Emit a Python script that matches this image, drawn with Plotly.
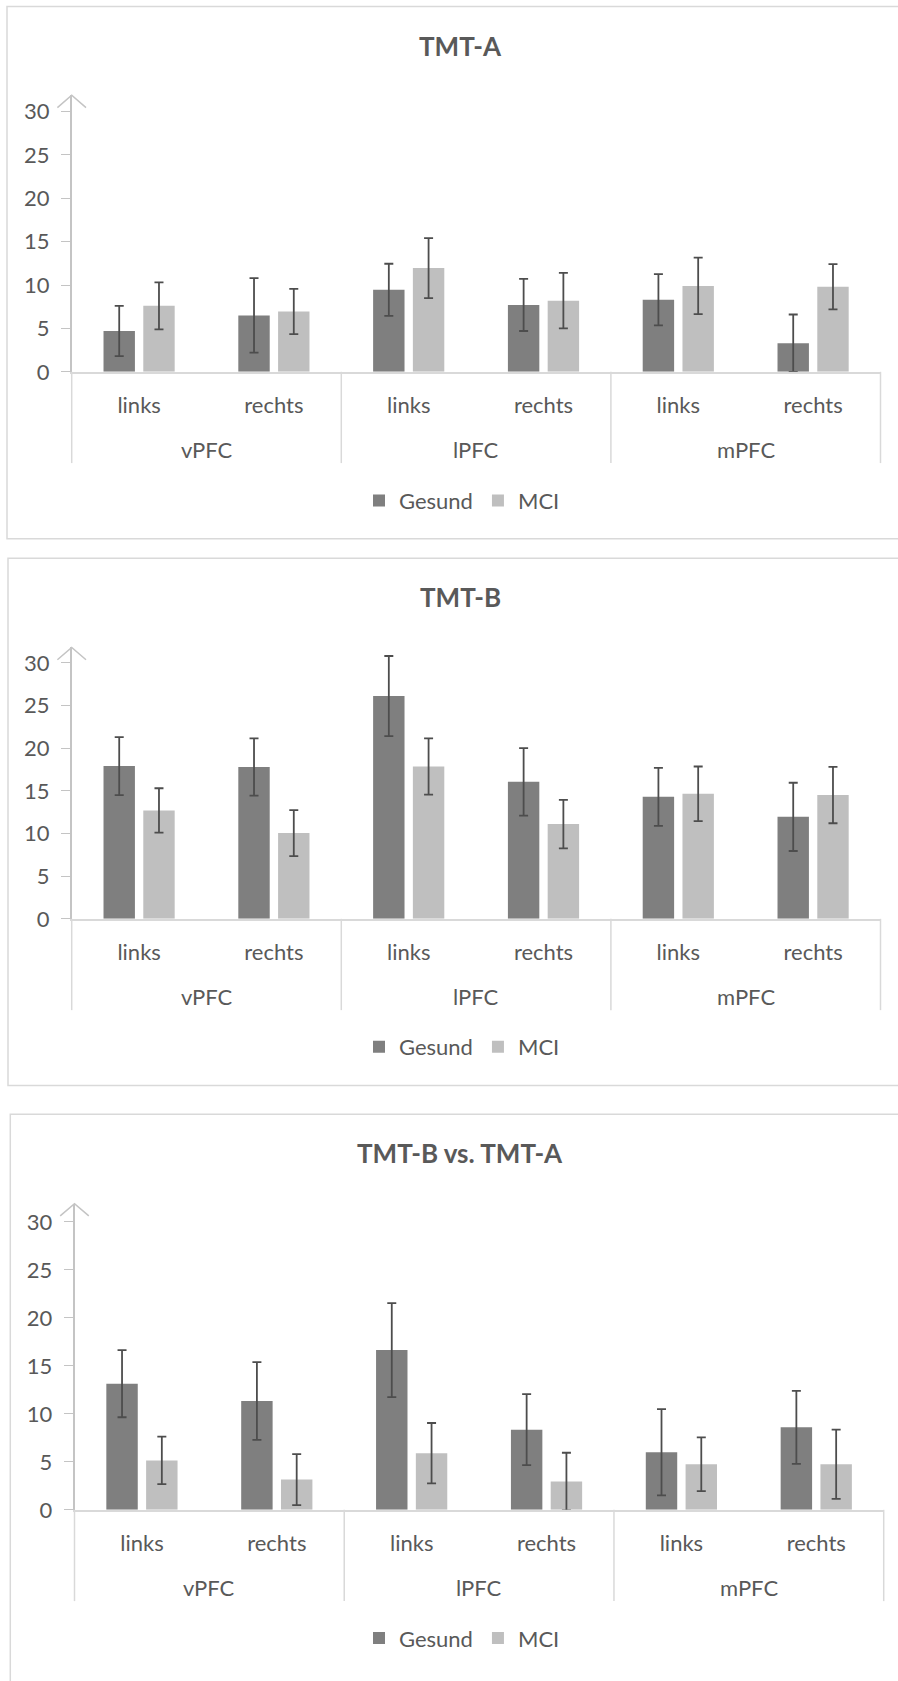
import plotly.graph_objects as go

W, H = 898, 1681

# ---------------- data ----------------
groups = ["vPFC", "lPFC", "mPFC"]
sides = ["links", "rechts"]
series = ["Gesund", "MCI"]
titles = ["TMT-A", "TMT-B", "TMT-B vs. TMT-A"]
y_ticks = [0, 5, 10, 15, 20, 25, 30]

tmt_a_gesund = [4.7, 6.5, 9.45, 7.7, 8.3, 3.3]
tmt_a_gesund_err = [2.9, 4.3, 3.0, 3.0, 2.95, 3.3]
tmt_a_mci = [7.6, 6.95, 11.95, 8.2, 9.9, 9.8]
tmt_a_mci_err = [2.7, 2.6, 3.45, 3.2, 3.25, 2.6]

tmt_b_gesund = [17.9, 17.8, 26.1, 16.05, 14.3, 11.95]
tmt_b_gesund_err = [3.4, 3.35, 4.7, 3.95, 3.4, 4.0]
tmt_b_mci = [12.7, 10.05, 17.85, 11.1, 14.65, 14.5]
tmt_b_mci_err = [2.6, 2.7, 3.3, 2.85, 3.2, 3.3]

diff_gesund = [13.15, 11.35, 16.65, 8.35, 6.0, 8.6]
diff_gesund_err = [3.5, 4.05, 4.9, 3.7, 4.5, 3.8]
diff_mci = [5.15, 3.15, 5.9, 2.95, 4.75, 4.75]
diff_mci_err = [2.47, 2.66, 3.15, 3.0, 2.8, 3.6]

panels_values = [
    (tmt_a_gesund, tmt_a_gesund_err, tmt_a_mci, tmt_a_mci_err),
    (tmt_b_gesund, tmt_b_gesund_err, tmt_b_mci, tmt_b_mci_err),
    (diff_gesund, diff_gesund_err, diff_mci, diff_mci_err),
]

# ---------------- style / layout (pixels) ----------------
FONT = "Lato, Carlito, Calibri, 'Open Sans', sans-serif"
TXT = "#595959"
AXIS_LINE = "#d9d9d9"
YAXIS_LINE = "#c4c4c4"
BORDER = "#d9d9d9"
COLORS = ["#7f7f7f", "#bfbfbf"]
ERR = "#4d4d4d"
FS = 22

layout_px = [
    dict(bx=7, bt=6.5, bb=543, ax0=71.7, ax1=880.5, y0=374.7, y30=112.3, top=96, title=46, legend=504.5),
    dict(bx=8, bt=562.5, bb=1094, ax0=71.7, ax1=880.5, y0=926, y30=668, top=652.5, title=602, legend=1055),
    dict(bx=10.3, bt=1123, bb=1740, ax0=74.5, ax1=883.7, y0=1521.6, y30=1231.5, top=1213, title=1162, legend=1651),
]
TITLE_X = 460
LEGEND_X = 462


def px(x):
    return x / W


def py(y):
    return 1 - y / H


fig = go.Figure()
shapes = []
annotations = []

xs = [g * len(sides) + s for g in range(len(groups)) for s in range(len(sides))]
xlabels = [sides[s] for g in range(len(groups)) for s in range(len(sides))]

for i, (vals, L) in enumerate(zip(panels_values, layout_px)):
    n = "" if i == 0 else str(i + 1)
    xa, ya = "x" + n, "y" + n
    leg = "legend" + n
    g_vals, g_err, m_vals, m_err = vals
    for k, (yv, ev) in enumerate([(g_vals, g_err), (m_vals, m_err)]):
        fig.add_trace(go.Bar(
            x=xs, y=yv, name=series[k], xaxis=xa, yaxis=ya, legend=leg,
            marker=dict(color=COLORS[k], line=dict(width=0)),
            error_y=dict(type="data", array=ev, visible=True, color=ERR,
                         thickness=1.8, width=4.5),
            showlegend=True,
        ))
    ytop = 30 * (L["y0"] - L["top"]) / (L["y0"] - L["y30"])
    fig.layout["xaxis" + n] = dict(
        domain=[px(L["ax0"]), px(L["ax1"])], anchor=ya,
        range=[-0.5, len(xs) - 0.5], tickvals=xs, ticktext=xlabels,
        showline=True, linecolor=AXIS_LINE, linewidth=1.5,
        ticks="", showgrid=False, zeroline=False, fixedrange=True,
        tickfont=dict(family=FONT, size=FS, color=TXT),
        ticklabelstandoff=13,
    )
    fig.layout["yaxis" + n] = dict(
        domain=[py(L["y0"]), py(L["top"])], anchor=xa,
        range=[0, ytop], tickvals=y_ticks,
        showline=True, linecolor=YAXIS_LINE, linewidth=1.5,
        ticks="outside", ticklen=9, tickcolor=YAXIS_LINE, tickwidth=1.3,
        showgrid=False, zeroline=False, fixedrange=True,
        tickfont=dict(family=FONT, size=FS, color=TXT),
        ticklabelstandoff=7,
    )
    # panel border (right edge lies outside the picture)
    shapes.append(dict(type="rect", xref="paper", yref="paper",
                       x0=px(L["bx"]), x1=px(W + 20), y0=py(L["bb"]), y1=py(L["bt"]),
                       line=dict(color=BORDER, width=1.5), layer="below"))
    # group dividers
    for g in range(len(groups) + 1):
        shapes.append(dict(type="line", xref=xa + " domain", yref="paper",
                           x0=g / len(groups), x1=g / len(groups),
                           y0=py(L["y0"]), y1=py(L["y0"] + 92),
                           line=dict(color=AXIS_LINE, width=1.5)))
    # arrow head on y axis
    shapes.append(dict(type="path", xref="paper", yref="paper",
                       xsizemode="pixel", ysizemode="pixel",
                       xanchor=px(L["ax0"]), yanchor=py(L["top"]),
                       path="M-14.3,-12.3 L0,0 L14.3,-12.3",
                       line=dict(color=YAXIS_LINE, width=1.5)))
    # group labels
    for g, name in enumerate(groups):
        gx = sum(xs[g * len(sides):(g + 1) * len(sides)]) / len(sides)
        annotations.append(dict(text=name, x=gx, xref=xa, y=py(L["y0"] + 78), yref="paper",
                                showarrow=False, xanchor="center", yanchor="middle",
                                font=dict(family=FONT, size=FS, color=TXT)))
    # title
    annotations.append(dict(text="<b>" + titles[i] + "</b>", x=px(TITLE_X), xref="paper",
                            y=py(L["title"]), yref="paper", showarrow=False,
                            xanchor="center", yanchor="middle",
                            font=dict(family=FONT, size=26, color=TXT)))
    fig.layout[leg] = dict(
        orientation="h", x=px(LEGEND_X), xanchor="center",
        y=py(L["legend"]), yanchor="middle",
        font=dict(family=FONT, size=FS, color=TXT),
        bgcolor="rgba(0,0,0,0)", itemwidth=30, itemclick=False, itemdoubleclick=False,
    )

fig.update_layout(
    width=W, height=H,
    margin=dict(l=0, r=0, t=0, b=0),
    paper_bgcolor="white", plot_bgcolor="white",
    barmode="group", bargap=0.41, bargroupgap=0.21,
    shapes=shapes, annotations=annotations,
    showlegend=True,
)

fig.write_html("out.html", config={"displayModeBar": False},
               post_script="document.body.style.margin='0';document.body.style.overflow='hidden';")
